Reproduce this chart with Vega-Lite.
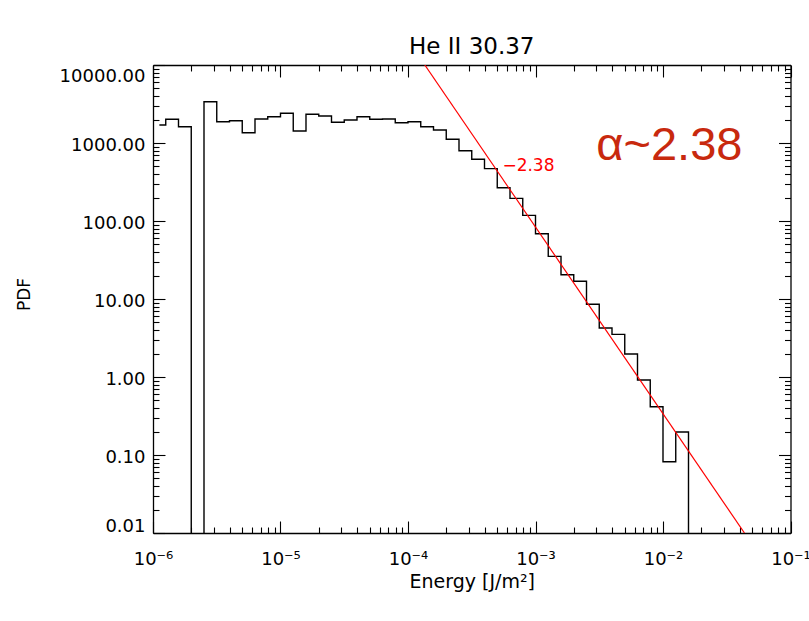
{
  "$schema": "https://vega.github.io/schema/vega-lite/v6.json",
  "width": 637.5,
  "height": 468,
  "autosize": {"type": "none"},
  "padding": {"left": 153, "top": 65, "right": 18.5, "bottom": 88},
  "background": "white",
  "config": {
    "view": {"stroke": null},
    "axis": {"domainColor": "black", "tickColor": "black", "labelColor": "black", "titleColor": "black", "labelFont": "DejaVu Sans", "titleFont": "DejaVu Sans", "grid": false, "titleFontWeight": "normal", "domainWidth": 1.3, "tickWidth": 1.1}
  },
  "title": {"text": "He II 30.37", "font": "DejaVu Sans", "fontSize": 23, "fontWeight": "normal", "color": "black", "frame": "group", "anchor": "middle", "baseline": "alphabetic", "offset": -13},
  "datasets": {
    "hist": [
      {"E": 1.1220e-6, "PDF": 1702},
      {"E": 1.4125e-6, "PDF": 2014},
      {"E": 1.7783e-6, "PDF": 1619},
      {"E": 2.2387e-6, "PDF": 0.001},
      {"E": 2.8184e-6, "PDF": 3381},
      {"E": 3.5481e-6, "PDF": 1876},
      {"E": 4.4668e-6, "PDF": 1932},
      {"E": 5.6234e-6, "PDF": 1355},
      {"E": 7.0795e-6, "PDF": 2031},
      {"E": 8.9125e-6, "PDF": 2175},
      {"E": 1.1220e-5, "PDF": 2405},
      {"E": 1.4125e-5, "PDF": 1426},
      {"E": 1.7783e-5, "PDF": 2333},
      {"E": 2.2387e-5, "PDF": 2218},
      {"E": 2.8184e-5, "PDF": 1842},
      {"E": 3.5481e-5, "PDF": 1972},
      {"E": 4.4668e-5, "PDF": 2175},
      {"E": 5.6234e-5, "PDF": 2014},
      {"E": 7.0795e-5, "PDF": 2031},
      {"E": 8.9125e-5, "PDF": 1820},
      {"E": 1.1220e-4, "PDF": 1876},
      {"E": 1.4125e-4, "PDF": 1619},
      {"E": 1.7783e-4, "PDF": 1468},
      {"E": 2.2387e-4, "PDF": 1115},
      {"E": 2.8184e-4, "PDF": 796},
      {"E": 3.5481e-4, "PDF": 618},
      {"E": 4.4668e-4, "PDF": 469},
      {"E": 5.6234e-4, "PDF": 267},
      {"E": 7.0795e-4, "PDF": 195},
      {"E": 8.9125e-4, "PDF": 118},
      {"E": 1.1220e-3, "PDF": 68.7},
      {"E": 1.4125e-3, "PDF": 35.2},
      {"E": 1.7783e-3, "PDF": 20.5},
      {"E": 2.2387e-3, "PDF": 16.9},
      {"E": 2.8184e-3, "PDF": 8.55},
      {"E": 3.5481e-3, "PDF": 4.25},
      {"E": 4.4668e-3, "PDF": 3.52},
      {"E": 5.6234e-3, "PDF": 1.97},
      {"E": 7.0795e-3, "PDF": 0.916},
      {"E": 8.9125e-3, "PDF": 0.416},
      {"E": 1.1220e-2, "PDF": 0.082},
      {"E": 1.4125e-2, "PDF": 0.197},
      {"E": 1.7783e-2, "PDF": 0.001}
    ],
    "fit": [
      {"E": 1.355e-4, "PDF": 10000},
      {"E": 4.355e-2, "PDF": 0.01}
    ],
    "slope": [
      {"E": 5.50e-4, "PDF": 441.6, "label": "−2.38"}
    ],
    "alpha": [
      {"E": 3.0e-3, "PDF": 605, "label": "α~2.38"}
    ]
  },
  "resolve": {"axis": {"x": "independent", "y": "independent"}},
  "layer": [
    {
      "data": {"name": "hist"},
      "mark": {"type": "line", "interpolate": "step", "color": "black", "strokeWidth": 1.4, "clip": true},
      "encoding": {
        "x": {"field": "E", "type": "quantitative",
          "scale": {"type": "log", "domain": [1e-6, 0.1], "nice": false},
          "axis": {"orient": "bottom", "values": [1e-6, 1e-5, 1e-4, 1e-3, 1e-2, 1e-1], "tickSize": -12, "labelPadding": 29, "labelFontSize": 18, "labelFlush": false, "labelOverlap": false,
            "labelExpr": "['10⁻⁶','10⁻⁵','10⁻⁴','10⁻³','10⁻²','10⁻¹'][round(log(datum.value)/LN10)+6]",
            "title": "Energy [J/m²]", "titleFontSize": 19, "titleBaseline": "alphabetic", "titleY": 54}},
        "y": {"field": "PDF", "type": "quantitative",
          "scale": {"type": "log", "domain": [0.01, 10000], "nice": false},
          "axis": {"orient": "left", "values": [0.01, 0.1, 1, 10, 100, 1000, 10000], "tickSize": -12, "labelPadding": 20, "labelFontSize": 18, "labelFlush": true, "labelOffset": 2.5, "labelOverlap": false,
            "labelExpr": "format(datum.value, '.2f')",
            "title": "PDF", "titleFontSize": 17, "titleBaseline": "alphabetic", "titleX": -124, "titleY": 229}}
      }
    },
    {
      "data": {"name": "fit"},
      "mark": {"type": "line", "color": "#ff0000", "strokeWidth": 1.2, "clip": true},
      "encoding": {
        "x": {"field": "E", "type": "quantitative",
          "scale": {"type": "log", "domain": [1e-6, 0.1], "nice": false},
          "axis": {"orient": "top", "values": [1e-6, 1e-5, 1e-4, 1e-3, 1e-2, 1e-1], "tickSize": -12, "labels": false, "title": null}},
        "y": {"field": "PDF", "type": "quantitative",
          "scale": {"type": "log", "domain": [0.01, 10000], "nice": false},
          "axis": {"orient": "right", "values": [0.01, 0.1, 1, 10, 100, 1000, 10000], "tickSize": -12, "labels": false, "title": null}}
      }
    },
    {
      "data": {"name": "slope"},
      "mark": {"type": "text", "align": "left", "baseline": "alphabetic", "font": "DejaVu Sans", "fontSize": 17, "color": "#ff0000"},
      "encoding": {
        "text": {"field": "label"},
        "x": {"field": "E", "type": "quantitative",
          "scale": {"type": "log", "domain": [1e-6, 0.1], "nice": false},
          "axis": {"orient": "bottom", "values": [2e-6, 3e-6, 4e-6, 5e-6, 6e-6, 7e-6, 8e-6, 9e-6, 2e-5, 3e-5, 4e-5, 5e-5, 6e-5, 7e-5, 8e-5, 9e-5, 2e-4, 3e-4, 4e-4, 5e-4, 6e-4, 7e-4, 8e-4, 9e-4, 0.002, 0.003, 0.004, 0.005, 0.006, 0.007, 0.008, 0.009, 0.02, 0.03, 0.04, 0.05, 0.06, 0.07, 0.08, 0.09], "tickSize": -6, "labels": false, "domain": false, "title": null}},
        "y": {"field": "PDF", "type": "quantitative",
          "scale": {"type": "log", "domain": [0.01, 10000], "nice": false},
          "axis": {"orient": "left", "values": [0.02, 0.03, 0.04, 0.05, 0.06, 0.07, 0.08, 0.09, 0.2, 0.3, 0.4, 0.5, 0.6, 0.7, 0.8, 0.9, 2, 3, 4, 5, 6, 7, 8, 9, 20, 30, 40, 50, 60, 70, 80, 90, 200, 300, 400, 500, 600, 700, 800, 900, 2000, 3000, 4000, 5000, 6000, 7000, 8000, 9000], "tickSize": -6, "labels": false, "domain": false, "title": null}}
      }
    },
    {
      "data": {"name": "alpha"},
      "mark": {"type": "text", "align": "left", "baseline": "alphabetic", "font": "Liberation Sans", "fontSize": 47, "color": "#c8290e"},
      "encoding": {
        "text": {"field": "label"},
        "x": {"field": "E", "type": "quantitative",
          "scale": {"type": "log", "domain": [1e-6, 0.1], "nice": false},
          "axis": {"orient": "top", "values": [2e-6, 3e-6, 4e-6, 5e-6, 6e-6, 7e-6, 8e-6, 9e-6, 2e-5, 3e-5, 4e-5, 5e-5, 6e-5, 7e-5, 8e-5, 9e-5, 2e-4, 3e-4, 4e-4, 5e-4, 6e-4, 7e-4, 8e-4, 9e-4, 0.002, 0.003, 0.004, 0.005, 0.006, 0.007, 0.008, 0.009, 0.02, 0.03, 0.04, 0.05, 0.06, 0.07, 0.08, 0.09], "tickSize": -6, "labels": false, "domain": false, "title": null}},
        "y": {"field": "PDF", "type": "quantitative",
          "scale": {"type": "log", "domain": [0.01, 10000], "nice": false},
          "axis": {"orient": "right", "values": [0.02, 0.03, 0.04, 0.05, 0.06, 0.07, 0.08, 0.09, 0.2, 0.3, 0.4, 0.5, 0.6, 0.7, 0.8, 0.9, 2, 3, 4, 5, 6, 7, 8, 9, 20, 30, 40, 50, 60, 70, 80, 90, 200, 300, 400, 500, 600, 700, 800, 900, 2000, 3000, 4000, 5000, 6000, 7000, 8000, 9000], "tickSize": -6, "labels": false, "domain": false, "title": null}}
      }
    }
  ]
}
